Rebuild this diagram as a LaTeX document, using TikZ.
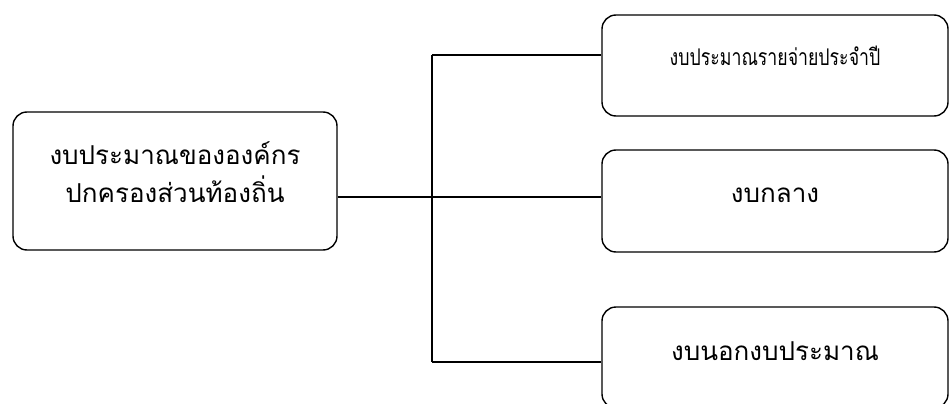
\documentclass[tikz,border=0pt]{standalone}
\usepackage{fontspec}
\newfontfamily\thaifont[Script=Thai]{Loma}
\newcommand{\liftby}[2]{\raisebox{#1}[\height][\depth]{#2}}

\tikzset{
  budgetbox/.style={draw, rounded corners=14pt, line width=1.4pt, inner sep=0pt,
    font=\thaifont\fontsize{26}{38}\selectfont},
  link/.style={line width=1.4pt}
}

\begin{document}
\begin{tikzpicture}[x=1pt,y=-1pt]
  \useasboundingbox (0,0) rectangle (951,404);

  % Define the boxes
  \node[budgetbox, minimum width=324pt, minimum height=138pt] (local) at (175,181)
    {\liftby{5pt}{\begin{tabular}{@{}c@{}}งบประมาณขององค์กร\\ปกครองส่วนท้องถิ่น\end{tabular}}};
  \node[budgetbox, minimum width=346pt, minimum height=101pt,
    font=\thaifont\fontsize{23}{28}\selectfont] (annual) at (775,65.5)
    {\liftby{10pt}{\scalebox{0.77}[1]{งบประมาณรายจ่ายประจำปี}}};
  \node[budgetbox, minimum width=346pt, minimum height=102pt] (central) at (775,201)
    {\liftby{6pt}{งบกลาง}};
  \node[budgetbox, minimum width=346pt, minimum height=101pt] (extra) at (775,357.5)
    {\liftby{6pt}{งบนอกงบประมาณ}};

  % Define the junction points
  \coordinate (trunktop) at (432,55);
  \coordinate (trunkmid) at (432,197);
  \coordinate (trunkbottom) at (432,362);

  % Draw the connectors
  \draw[link] (local.east |- trunkmid) -- (trunkmid);
  \draw[link] (trunktop) -- (trunkbottom);
  \draw[link] (trunktop) -- (annual.west |- trunktop);
  \draw[link] (trunkmid) -- (central.west |- trunkmid);
  \draw[link] (trunkbottom) -- (extra.west |- trunkbottom);
\end{tikzpicture}
\end{document}
